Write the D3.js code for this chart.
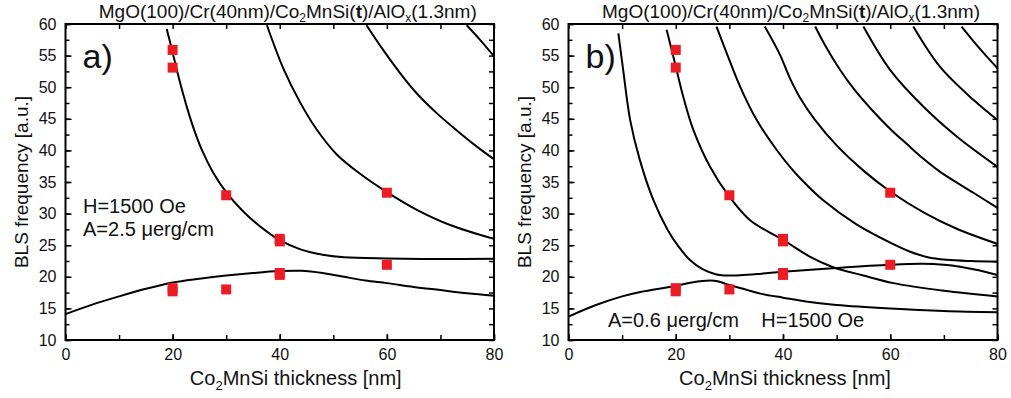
<!DOCTYPE html>
<html>
<head>
<meta charset="utf-8">
<script src="https://cdn.jsdelivr.net/npm/d3@7"></script>
<style>
  body { margin: 0; background: #fff; }
  svg text { font-family: "Liberation Sans", Arial, sans-serif; fill: #111; }
</style>
</head>
<body>
<div id="chart"></div>
<script>
// measured points (thickness [nm], BLS frequency [a.u.])
var expX = [20, 20, 20, 20, 30, 30, 40, 40, 40, 40, 60, 60];
var expY = [55.9, 53.1, 18.2, 17.7, 32.9, 18.0, 26.0, 25.6, 20.6, 20.3, 33.3, 21.9];

// panel a) calculated modes, A=2.5 uerg/cm
var aMode0 = [[0,14.1],[5,15.6],[10,16.9],[15,18.1],[20,19.1],[25,19.7],[30,20.2],[35,20.6],[40,20.9],[44,20.95],[48,20.6],[52,20.0],[56,19.4],[60,19.0],[65,18.4],[70,17.9],[75,17.4],[80,17.0]];
var aMode1 = [[18.9,59.2],[20,55.5],[21,52],[22,48.8],[23,45.9],[24,43.3],[25.5,40],[27.5,36.6],[30,33.4],[33,30.5],[36,28.2],[40,25.8],[44,24.3],[48,23.5],[52,23.1],[60,22.9],[70,22.8],[80,22.85]];
var aMode2 = [[37.6,59.8],[40.7,52.9],[43.8,47.6],[46.9,43.3],[50.6,39.4],[55,36.3],[60,33.4],[65.6,30.6],[71.8,28.2],[80,26.0]];
var aMode3 = [[56.2,59.8],[59.3,55.9],[62.5,52.2],[65.6,49.0],[69.3,45.9],[73,43.2],[76.8,40.6],[80,38.6]];
var aMode4 = [[74.9,59.8],[77.4,57.5],[80,54.9]];

// panel b) calculated modes, A=0.6 uerg/cm
var bMode0 = [[0,13.7],[5,15.5],[10,16.9],[13.4,17.6],[19.6,18.5],[23,19.1],[26.4,19.4],[28,19.25],[30,18.7],[33,18.0],[36,17.3],[40,16.7],[45,16.0],[50,15.55],[60,15.0],[70,14.6],[80,14.4]];
var bMode1 = [[9.3,58.5],[10.2,52.7],[11.5,44.8],[13.3,38.5],[15.8,32.2],[18.5,27.4],[20.5,24.8],[22.6,22.7],[25,21.2],[27.6,20.35],[29,20.2],[32,20.25],[36,20.5],[40,20.8],[50,21.4],[60,21.9],[66,22.05],[70,21.9],[73,21.6],[76,21.1],[80,20.3]];
var bMode2 = [[18.3,59.1],[19.8,54.0],[21.4,48.5],[23.3,43.2],[26.4,37.4],[29.8,32.9],[33.8,29.0],[40.1,25.8],[45,23.2],[49.1,21.6],[55,20.2],[60.6,19.0],[70,17.8],[80,16.9]];
var bMode3 = [[27.6,59.6],[29.5,55.4],[32,50.1],[35.1,44.8],[38.8,40.1],[41.3,37.4],[43.2,35.6],[47.5,32.1],[53.7,28.3],[60,25.4],[63.6,24.0],[67,23.1],[70.5,22.7],[75,22.5],[80,22.4]];
var bMode4 = [[36.6,59.6],[39.4,55.2],[41.3,51.4],[43.2,48.3],[46,44.8],[50,40.8],[55,36.8],[60,33.5],[66.2,30.2],[72.4,27.6],[80,25.2]];
var bMode5 = [[46.0,59.6],[48,56.4],[50.6,52.8],[53.5,49.4],[56.8,46.2],[60,43.4],[63.1,41.0],[66,38.8],[69.3,36.6],[75.5,33.3],[80,30.9]];
var bMode6 = [[55.0,59.6],[60,52.7],[66.2,46.9],[72.4,42.2],[80,37.4]];
var bMode7 = [[64.3,59.6],[69.3,53.2],[75.5,48.0],[80,44.8]];
var bMode8 = [[73.3,59.6],[76.9,55.9],[80,53.0]];

var xTicks = [0, 20, 40, 60, 80];
var yTicks = [10, 15, 20, 25, 30, 35, 40, 45, 50, 55, 60];

var width = 1011, height = 398;
var svg = d3.select("#chart").append("svg")
    .attr("width", width)
    .attr("height", height);

function drawPanel(left, right, modes, letter, idx) {
    var top = 24, bottom = 340;
    var x = d3.scaleLinear().domain([0, 80]).range([left, right]);
    var y = d3.scaleLinear().domain([10, 60]).range([bottom, top]);
    var g = svg.append("g");

    g.append("clipPath").attr("id", "clip" + idx)
        .append("rect")
        .attr("x", left).attr("y", top)
        .attr("width", right - left).attr("height", bottom - top);

    var line = d3.line()
        .x(d => x(d[0]))
        .y(d => y(d[1]))
        .curve(d3.curveCatmullRom.alpha(0.5));

    g.append("g").attr("clip-path", "url(#clip" + idx + ")")
        .selectAll("path")
        .data(modes)
        .enter()
        .append("path")
        .attr("d", line)
        .attr("fill", "none")
        .attr("stroke", "#000")
        .attr("stroke-width", 2);

    // axes with inward ticks
    var xMinor = d3.range(0, 81, 10);
    var yMinor = d3.range(10, 60.1, 2.5);
    g.append("g")
        .attr("transform", `translate(0,${bottom})`)
        .call(d3.axisBottom(x).tickValues(xMinor).tickSize(-5).tickFormat(""))
        .call(a => a.select(".domain").remove());
    g.append("g")
        .attr("transform", `translate(0,${bottom})`)
        .call(d3.axisBottom(x).tickValues(xTicks).tickSize(-6).tickPadding(9).tickFormat(d3.format("d")))
        .call(a => a.select(".domain").remove());
    g.append("g")
        .attr("transform", `translate(0,${top})`)
        .call(d3.axisTop(x).tickValues(xMinor).tickSize(-5).tickFormat(""))
        .call(a => a.select(".domain").remove());
    g.append("g")
        .attr("transform", `translate(${left},0)`)
        .call(d3.axisLeft(y).tickValues(yMinor).tickSize(-4).tickFormat(""))
        .call(a => a.select(".domain").remove());
    g.append("g")
        .attr("transform", `translate(${left},0)`)
        .call(d3.axisLeft(y).tickValues(yTicks).tickSize(-6).tickPadding(9).tickFormat(d3.format("d")))
        .call(a => a.select(".domain").remove());
    g.append("g")
        .attr("transform", `translate(${right},0)`)
        .call(d3.axisRight(y).tickValues(yMinor).tickSize(-5).tickFormat(""))
        .call(a => a.select(".domain").remove());

    g.selectAll(".tick line").attr("stroke", "#000").attr("stroke-width", 1.5);
    g.selectAll(".tick text")
        .attr("font-size", 16)
        .attr("font-family", "Liberation Sans, Arial, sans-serif")
        .attr("fill", "#111");

    g.append("rect")
        .attr("x", left).attr("y", top)
        .attr("width", right - left).attr("height", bottom - top)
        .attr("fill", "none")
        .attr("stroke", "#000")
        .attr("stroke-width", 2);

    // measured points
    var s = 10;
    g.selectAll(".pt")
        .data(expX)
        .enter()
        .append("rect")
        .attr("class", "pt")
        .attr("x", (d, i) => x(d) - s / 2)
        .attr("y", (d, i) => y(expY[i]) - s / 2)
        .attr("width", s)
        .attr("height", s)
        .attr("fill", "#ec1c24");

    // title
    var t = g.append("text")
        .attr("x", (left + right) / 2 + 8)
        .attr("y", 18)
        .attr("text-anchor", "middle")
        .attr("font-size", 19);
    t.append("tspan").text("MgO(100)/Cr(40nm)/Co");
    t.append("tspan").attr("font-size", 12).attr("dy", 4).text("2");
    t.append("tspan").attr("dy", -4).text("MnSi(");
    t.append("tspan").attr("font-weight", "bold").text("t");
    t.append("tspan").text(")/AlO");
    t.append("tspan").attr("font-size", 12).attr("dy", 4).text("x");
    t.append("tspan").attr("dy", -4).text("(1.3nm)");

    // x label
    var xl = g.append("text")
        .attr("x", (left + right) / 2 + (idx === 0 ? 16 : 2))
        .attr("y", 385)
        .attr("text-anchor", "middle")
        .attr("font-size", 20);
    xl.append("tspan").text("Co");
    xl.append("tspan").attr("font-size", 13).attr("dy", 5).text("2");
    xl.append("tspan").attr("dy", -5).text("MnSi thickness [nm]");

    // y label
    g.append("text")
        .attr("transform", `translate(${left - 38},${(top + bottom) / 2}) rotate(-90)`)
        .attr("text-anchor", "middle")
        .attr("font-size", 19)
        .text("BLS frequency [a.u.]");

    // panel letter
    g.append("text")
        .attr("x", left + 17)
        .attr("y", 68)
        .attr("font-size", 34)
        .text(letter);

    return { x: x, y: y, g: g };
}

var pa = drawPanel(65.5, 494, [aMode0, aMode1, aMode2, aMode3, aMode4], "a)", 0);
var pb = drawPanel(568.5, 997.5, [bMode0, bMode1, bMode2, bMode3, bMode4, bMode5, bMode6, bMode7, bMode8], "b)", 1);

pa.g.append("text").attr("x", 83).attr("y", 213).attr("font-size", 20).text("H=1500 Oe");
pa.g.append("text").attr("x", 83).attr("y", 236).attr("font-size", 20).text("A=2.5 \u03bcerg/cm");
pb.g.append("text").attr("x", 608).attr("y", 327).attr("font-size", 20)
    .style("white-space", "pre")
    .text("A=0.6 \u03bcerg/cm    H=1500 Oe");
</script>
</body>
</html>
